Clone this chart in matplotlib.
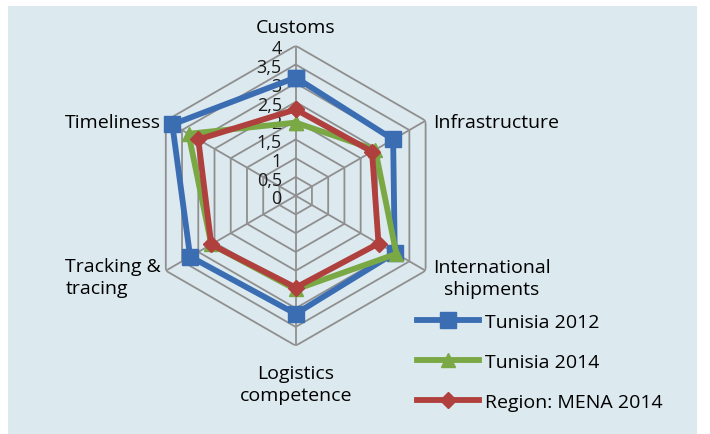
import numpy as np
import matplotlib.pyplot as plt
from matplotlib.patches import Rectangle

plt.rcParams['font.family'] = ['Open Sans', 'DejaVu Sans']

# datos
categorias = ['Customs', 'Infrastructure', 'International\nshipments',
              'Logistics\ncompetence', 'Tracking &\ntracing', 'Timeliness']
tunisia_2012 = [3.15, 3.0, 3.05, 3.15, 3.25, 3.8]
tunisia_2014 = [1.95, 2.45, 3.1, 2.5, 2.6, 3.3]
mena_2014 = [2.3, 2.35, 2.55, 2.45, 2.6, 3.0]
ticks = [0, 0.5, 1, 1.5, 2, 2.5, 3, 3.5, 4]
tick_labels = ['0', '0,5', '1', '1,5', '2', '2,5', '3', '3,5', '4']

W, H = 710, 435
fig = plt.figure(figsize=(W / 100, H / 100), dpi=100, facecolor='white')

# fondo azul claro
fig.patches.append(Rectangle((8 / W, 0), 689 / W, (H - 7) / H,
                             transform=fig.transFigure, facecolor='#dce9ef',
                             edgecolor='none', zorder=-5))

cx, cy, R = 295.7, 196.7, 150
ax = fig.add_axes([(cx - R) / W, (H - cy - R) / H, 2 * R / W, 2 * R / H],
                  projection='polar')
ax.set_zorder(2)
ax.set_facecolor('none')
ax.set_theta_offset(np.pi / 2)
ax.set_theta_direction(-1)
ax.set_ylim(0, 4)
ax.grid(False)
ax.spines['polar'].set_visible(False)
ax.set_xticks([])
ax.set_yticks([])

n = len(categorias)
ang = np.linspace(0, 2 * np.pi, n, endpoint=False)
ang_c = np.append(ang, ang[0])

# red hexagonal
for t in ticks[1:]:
    ax.plot(ang_c, [t] * (n + 1), color='#8f8f8f', lw=1.3, zorder=1)
for a in ang:
    ax.plot([a, a], [0, 4], color='#8f8f8f', lw=1.3, zorder=1)

# etiquetas del eje radial
for t, lab in zip(ticks, tick_labels):
    ax.annotate(lab, (0, t), xytext=(-10, -2), textcoords='offset points',
                ha='right', va='center', fontsize=13, color='#1a1a1a')

def serie(vals, color, marker, ms, label):
    v = list(vals) + [vals[0]]
    ax.plot(ang_c, v, color=color, lw=4.2, marker=marker, ms=ms,
            mfc=color, mec=color, label=label, zorder=3, clip_on=False)

serie(tunisia_2012, '#3b6db3', 's', 11, 'Tunisia 2012')
serie(tunisia_2014, '#79a844', '^', 10, 'Tunisia 2014')
serie(mena_2014, '#b0403d', 'D', 8, 'Region: MENA 2014')

# etiquetas de categorias
fs = 14
ls = 1.3
fig.text(296 / W, 1 - 28 / H, categorias[0], ha='center', va='center', fontsize=fs)
fig.text(433 / W, 1 - 123 / H, categorias[1], ha='left', va='center', fontsize=fs)
fig.text(433 / W, 1 - 279 / H, categorias[2], ha='left', va='center',
         multialignment='center', fontsize=fs, linespacing=ls)
fig.text(296 / W, 1 - 385 / H, categorias[3], ha='center', va='center',
         multialignment='center', fontsize=fs, linespacing=ls)
fig.text(161 / W, 1 - 278 / H, categorias[4], ha='right', va='center',
         multialignment='left', fontsize=fs, linespacing=ls)
fig.text(161 / W, 1 - 123 / H, categorias[5], ha='right', va='center', fontsize=fs)

ax.legend(loc='upper left', bbox_to_anchor=(417 / W, 1 - 314 / H),
          bbox_transform=fig.transFigure, frameon=False, fontsize=fs,
          handlelength=3.2, handletextpad=0.3, labelspacing=1.13,
          borderaxespad=0, borderpad=0)

fig.savefig('out.png', dpi=100, facecolor='white')
